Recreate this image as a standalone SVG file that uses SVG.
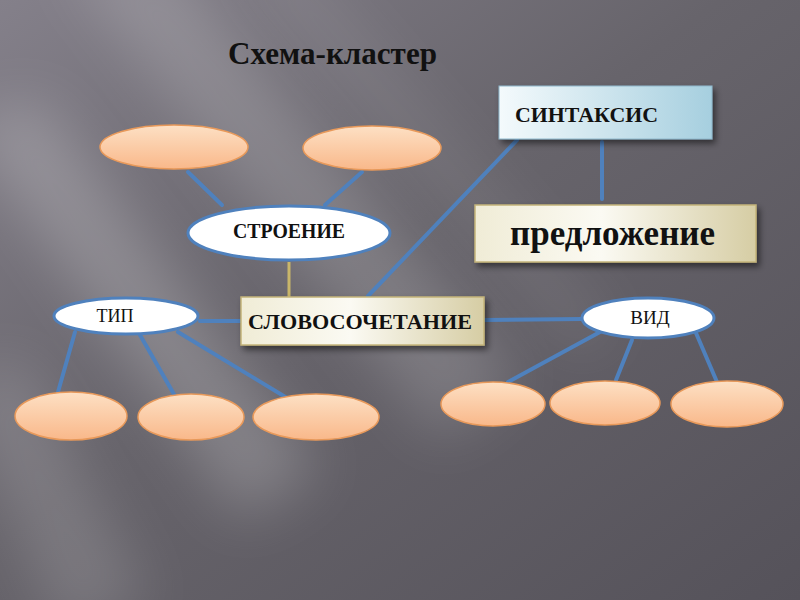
<svg xmlns="http://www.w3.org/2000/svg" width="800" height="600" viewBox="0 0 800 600">
<defs>
<linearGradient id="bg" x1="0" y1="0" x2="1" y2="1">
<stop offset="0" stop-color="#84808a"/>
<stop offset="0.45" stop-color="#67646b"/>
<stop offset="1" stop-color="#55525a"/>
</linearGradient>
<linearGradient id="orange" x1="0" y1="0" x2="0" y2="1">
<stop offset="0" stop-color="#fde0c4"/>
<stop offset="1" stop-color="#f9b88a"/>
</linearGradient>
<linearGradient id="cream" x1="0" y1="0" x2="1" y2="0">
<stop offset="0" stop-color="#f0ecd6"/>
<stop offset="0.45" stop-color="#fbfaf3"/>
<stop offset="1" stop-color="#d6cda4"/>
</linearGradient>
<linearGradient id="blue" x1="0" y1="0" x2="1" y2="0">
<stop offset="0" stop-color="#f4fafc"/>
<stop offset="1" stop-color="#a6cfdf"/>
</linearGradient>
<filter id="blur" x="-50%" y="-50%" width="200%" height="200%">
<feGaussianBlur stdDeviation="28"/>
</filter>
<filter id="sh" x="-20%" y="-30%" width="140%" height="170%">
<feDropShadow dx="3" dy="4" stdDeviation="3" flood-color="#000" flood-opacity="0.5"/>
</filter>
</defs>
<style>
.c{stroke:#4f81bd;stroke-width:4;fill:none;stroke-linecap:round}
.o{fill:url(#orange);stroke:#e8995a;stroke-width:1.5}
.w{fill:#ffffff;stroke:#4f81bd;stroke-width:3}
.t{font-family:"Liberation Serif","Times New Roman",serif;fill:#111;font-weight:bold}
.r{font-family:"Liberation Serif","Times New Roman",serif;fill:#111}
.s{fill:#ffffff;filter:url(#blur)}
</style>
<rect width="800" height="600" fill="url(#bg)"/>
<g id="background-streaks">
<polygon class="s" points="60,-40 170,-40 520,380 440,440" opacity="0.16"/>
<polygon class="s" points="-40,120 40,100 320,470 240,520" opacity="0.2"/>
<polygon class="s" points="-40,380 20,360 150,600 60,640" opacity="0.14"/>
<polygon class="s" points="230,-40 300,-40 620,330 580,360" opacity="0.08"/>
</g>
<text class="t" x="228" y="64" font-size="31" textLength="209" lengthAdjust="spacingAndGlyphs">Схема-кластер</text>
<g id="connectors">
<line class="c" x1="188" y1="172" x2="222" y2="205"/>
<line class="c" x1="362" y1="172" x2="325" y2="205"/>
<line x1="289" y1="262" x2="289" y2="297" stroke="#c9b66a" stroke-width="3"/>
<line class="c" x1="368" y1="296" x2="517" y2="140"/>
<line class="c" x1="602" y1="142" x2="602" y2="199"/>
<line class="c" x1="200" y1="321" x2="241" y2="321"/>
<line class="c" x1="484" y1="320" x2="582" y2="319"/>
<line class="c" x1="75" y1="332" x2="58" y2="392"/>
<line class="c" x1="140" y1="335" x2="175" y2="396"/>
<line class="c" x1="178" y1="332" x2="287" y2="398"/>
<line class="c" x1="600" y1="332" x2="508" y2="382"/>
<line class="c" x1="632" y1="340" x2="616" y2="380"/>
<line class="c" x1="696" y1="333" x2="717" y2="382"/>
</g>
<g id="top1"><ellipse class="o" cx="174" cy="147" rx="74" ry="22"/></g>
<g id="top2"><ellipse class="o" cx="372" cy="148" rx="69" ry="22"/></g>
<g id="stroenie"><ellipse class="w" cx="289" cy="233" rx="101" ry="27"/><text class="t" x="289" y="238" font-size="20" text-anchor="middle" textLength="112" lengthAdjust="spacingAndGlyphs">СТРОЕНИЕ</text></g>
<g id="sintaksis"><rect x="499" y="86" width="213" height="53" fill="url(#blue)" stroke="#8fb8cc" stroke-width="1" filter="url(#sh)"/><text class="t" x="515" y="122" font-size="21" textLength="143" lengthAdjust="spacingAndGlyphs">СИНТАКСИС</text></g>
<g id="predlozhenie"><rect x="475" y="205" width="281" height="57" fill="url(#cream)" stroke="#c4b47a" stroke-width="1.5" filter="url(#sh)"/><text class="t" x="510" y="245" font-size="35" textLength="205" lengthAdjust="spacingAndGlyphs">предложение</text></g>
<g id="slovosochetanie"><rect x="241" y="297" width="243" height="48" fill="url(#cream)" stroke="#c4b47a" stroke-width="1.5" filter="url(#sh)"/><text class="t" x="248" y="329" font-size="22" textLength="224" lengthAdjust="spacingAndGlyphs">СЛОВОСОЧЕТАНИЕ</text></g>
<g id="tip"><ellipse class="w" cx="126" cy="316" rx="72" ry="18"/><text class="r" x="115" y="322" font-size="18" text-anchor="middle">ТИП</text></g>
<g id="vid"><ellipse class="w" cx="648" cy="318" rx="66" ry="20"/><text class="r" x="650" y="324" font-size="19" text-anchor="middle">ВИД</text></g>
<g id="bl1"><ellipse class="o" cx="71" cy="416" rx="56" ry="24"/></g>
<g id="bl2"><ellipse class="o" cx="191" cy="417" rx="53" ry="23"/></g>
<g id="bl3"><ellipse class="o" cx="316" cy="417" rx="63" ry="23"/></g>
<g id="br1"><ellipse class="o" cx="493" cy="404" rx="52" ry="22"/></g>
<g id="br2"><ellipse class="o" cx="605" cy="403" rx="55" ry="22"/></g>
<g id="br3"><ellipse class="o" cx="727" cy="404" rx="56" ry="23"/></g>
</svg>
